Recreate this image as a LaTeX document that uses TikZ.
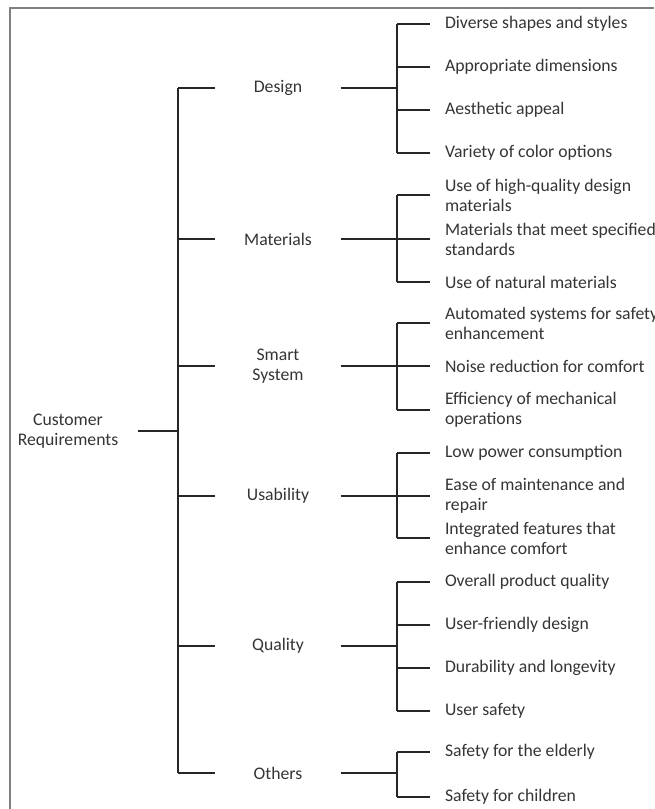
\documentclass[tikz,border=0pt]{standalone}
\usepackage{fontspec}
\setmainfont{Carlito}
\definecolor{txt}{HTML}{353535}
\definecolor{frm}{HTML}{808080}
\begin{document}
\begin{tikzpicture}[x=1pt,y=-1pt,
  every node/.style={font=\fontsize{17.7}{20}\selectfont, text=txt},
  root/.style={minimum width=140pt, inner sep=0pt, align=center},
  cat/.style={minimum width=125pt, inner sep=0pt, align=center},
  leaf/.style={anchor=west, inner sep=0pt, outer xsep=15pt, align=left},
  con/.style={draw=black!85, line width=1.2pt},
  frame/.style={draw=frm, line width=2.5pt}]
\clip (0,0) rectangle (654,809);
\fill[white] (0,0) rectangle (654,809);
% frame
\coordinate (f1) at (10,809);
\coordinate (f2) at (10,8);
\coordinate (f3) at (654,8);
\draw[frame] (f1) -- (f2) -- (f3);

% root
\node[root] (root) at (68,431) {Customer\\Requirements};
% categories
\node[cat] (design) at (278,88) {Design};
\node[cat] (materials) at (278,239) {Materials};
\node[cat] (smart) at (278,366) {Smart\\System};
\node[cat] (usab) at (278,496) {Usability};
\node[cat] (quality) at (278,646) {Quality};
\node[cat] (others) at (278,773) {Others};

% trunk coordinates
\coordinate (tD) at (178,88);
\coordinate (tM) at (178,239);
\coordinate (tS) at (178,366);
\coordinate (tU) at (178,496);
\coordinate (tQ) at (178,646);
\coordinate (tO) at (178,773);
\coordinate (tR) at (178,431);

% branch coordinates
\coordinate (bD) at (397,88);
\coordinate (bM) at (397,239);
\coordinate (bS) at (397,366);
\coordinate (bU) at (397,496);
\coordinate (bQ) at (397,646);
\coordinate (bO) at (397,773);

% leaves
\node[leaf] (d1) at (430,24) {Diverse shapes and styles};
\node[leaf] (d2) at (430,67) {Appropriate dimensions};
\node[leaf] (d3) at (430,110) {Aesthetic appeal};
\node[leaf] (d4) at (430,153) {Variety of color options};

\node[leaf] (m1) at (430,195) {Use of high-quality design\\materials};
\node[leaf] (m2) at (430,239) {Materials that meet specified\\standards};
\node[leaf] (m3) at (430,282) {Use of natural materials};

\node[leaf] (s1) at (430,323) {Automated systems for safety\\enhancement};
\node[leaf] (s2) at (430,366) {Noise reduction for comfort};
\node[leaf] (s3) at (430,410) {Efficiency of mechanical\\operations};

\node[leaf] (u1) at (430,453) {Low power consumption};
\node[leaf] (u2) at (430,496) {Ease of maintenance and\\repair};
\node[leaf] (u3) at (430,538) {Integrated features that\\enhance comfort};

\node[leaf] (q1) at (430,582) {Overall product quality};
\node[leaf] (q2) at (430,625) {User-friendly design};
\node[leaf] (q3) at (430,668) {Durability and longevity};
\node[leaf] (q4) at (430,711) {User safety};

\node[leaf] (o1) at (430,752) {Safety for the elderly};
\node[leaf] (o2) at (430,797) {Safety for children};

% root connector and trunk
\draw[con] (root.east) -- (tR);
\draw[con] (tD) -- (tO);
\foreach \t/\c in {tD/design,tM/materials,tS/smart,tU/usab,tQ/quality,tO/others}
  \draw[con] (\t) -- (\c.west);
\foreach \c/\b in {design/bD,materials/bM,smart/bS,usab/bU,quality/bQ,others/bO}
  \draw[con] (\c.east) -- (\b);

% branch verticals
\draw[con] (d1.west -| bD) -- (d4.west -| bD);
\draw[con] (m1.west -| bM) -- (m3.west -| bM);
\draw[con] (s1.west -| bS) -- (s3.west -| bS);
\draw[con] (u1.west -| bU) -- (u3.west -| bU);
\draw[con] (q1.west -| bQ) -- (q4.west -| bQ);
\draw[con] (o1.west -| bO) -- (o2.west -| bO);

% leaf stubs
\foreach \l/\b in {d1/bD,d2/bD,d3/bD,d4/bD,m1/bM,m2/bM,m3/bM,s1/bS,s2/bS,s3/bS,u1/bU,u2/bU,u3/bU,q1/bQ,q2/bQ,q3/bQ,q4/bQ,o1/bO,o2/bO}
  \draw[con] (\l.west -| \b) -- (\l.west);
\end{tikzpicture}
\end{document}
